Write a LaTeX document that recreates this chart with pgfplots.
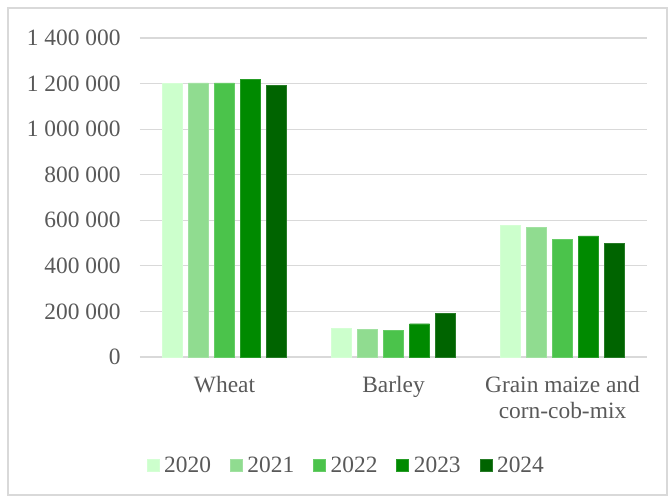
\documentclass[border=0pt]{standalone}
\usepackage{fontspec}
\setmainfont{Liberation Serif}
\usepackage{pgfplots}
\pgfplotsset{compat=1.18}

\definecolor{ca}{HTML}{CCFFCC}
\definecolor{cb}{HTML}{90DC90}
\definecolor{cc}{HTML}{4BC34B}
\definecolor{cd}{HTML}{008A00}
\definecolor{ce}{HTML}{006400}
\definecolor{gridgray}{HTML}{D9D9D9}
\definecolor{textgray}{HTML}{595959}

\begin{document}
\begin{tikzpicture}
\path[use as bounding box] (-140bp,-140bp) rectangle (529bp,357bp);
\draw[gridgray, line width=1.2bp] (-132bp,-138bp) rectangle (527bp,349bp);
\begin{axis}[
    at={(0,0)}, anchor=south west,
    scale only axis,
    width=507bp, height=319bp,
    xmin=-0.5, xmax=2.5,
    ymin=0, ymax=1400000,
    ytick={0,200000,400000,600000,800000,1000000,1200000,1400000},
    xtick={0,1,2},
    xticklabels={Wheat, Barley, {Grain maize and\\corn-cob-mix}},
    axis line style={draw=none},
    major tick length=0,
    ymajorgrids,
    major grid style={gridgray, line width=1.2bp},
    scaled y ticks=false,
    /pgf/number format/fixed,
    /pgf/number format/1000 sep={\ },
    /pgf/number format/assume math mode=true,
    tick label style={font=\fontsize{23.5}{26}\selectfont, text=textgray},
    yticklabel style={anchor=east, xshift=-16bp},
    xticklabel style={align=center, yshift=-16bp},
    ybar=6bp, bar width=20bp,
    legend columns=5,
    legend style={at={(axis description cs:0.407,-0.34)}, anchor=center, draw=none,
        font=\fontsize{23.5}{26}\selectfont, text=textgray,
        /tikz/every even column/.append style={column sep=17bp}},
    legend image code/.code={\fill[#1] (0bp,-6bp) rectangle (12bp,6bp); \path (15bp,0bp);},
]
\addplot[fill=ca, draw=ca!85!white] coordinates {(0,1200000) (1,125000) (2,578000)};
\addlegendentry{2020}
\addplot[fill=cb, draw=cb!85!white] coordinates {(0,1203000) (1,121000) (2,570000)};
\addlegendentry{2021}
\addplot[fill=cc, draw=cc!85!white] coordinates {(0,1203000) (1,118000) (2,516000)};
\addlegendentry{2022}
\addplot[fill=cd, draw=cd!85!white] coordinates {(0,1220000) (1,146000) (2,532000)};
\addlegendentry{2023}
\addplot[fill=ce, draw=ce!85!white] coordinates {(0,1193000) (1,192000) (2,500000)};
\addlegendentry{2024}
\end{axis}
\end{tikzpicture}
\end{document}
